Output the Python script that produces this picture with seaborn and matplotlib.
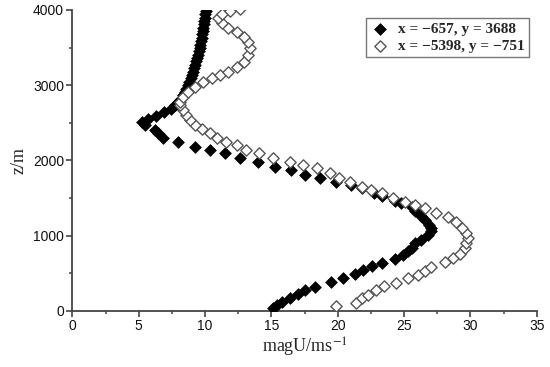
import numpy as np
import pandas as pd
import matplotlib
matplotlib.use("Agg")
import matplotlib.pyplot as plt
import seaborn as sns
from matplotlib.ticker import MultipleLocator

# series 1: x = -657, y = 3688 (filled diamonds)
black_u = [15.1, 15.4, 15.8, 16.4, 17.0, 17.5, 18.3, 19.5, 20.4, 21.3, 21.9, 22.6,
           23.3, 24.3, 24.9, 25.3, 25.6, 25.8, 26.3, 26.8, 27.05, 27.0, 26.9, 26.6,
           26.3, 25.8, 25.6, 24.8, 24.3, 23.3, 22.7, 21.8, 21.0, 19.9, 18.65, 17.5,
           16.5, 15.26, 14.0, 12.6, 11.5, 10.4, 9.24, 7.98, 6.85, 6.48, 6.23, 5.47,
           5.25, 5.7, 6.3, 6.9, 7.4, 7.75, 8.0, 8.2, 8.35, 8.5, 8.6, 8.72, 8.82,
           8.92, 9.0, 9.1, 9.18, 9.26, 9.33, 9.4, 9.47, 9.53, 9.6, 9.65, 9.7, 9.75,
           9.8, 9.84, 9.88, 9.92, 9.95, 9.98, 10.01, 10.04]
black_z = [40, 80, 120, 165, 225, 270, 315, 378, 435, 490, 540, 590,
           640, 690, 745, 790, 835, 895, 945, 1005, 1055, 1100, 1145, 1200,
           1255, 1320, 1385, 1430, 1460, 1520, 1565, 1630, 1675, 1716, 1761, 1805,
           1871, 1915, 1981, 2027, 2093, 2138, 2181, 2247, 2293, 2359, 2403, 2469,
           2505, 2550, 2595, 2640, 2685, 2730, 2775, 2820, 2865, 2910, 2955, 3000, 3045,
           3090, 3135, 3180, 3225, 3270, 3315, 3360, 3405, 3450, 3495, 3540, 3585, 3630,
           3675, 3720, 3765, 3810, 3855, 3900, 3945, 3990]

# series 2: x = -5398, y = -751 (open diamonds)
white_u = [19.9, 21.36, 21.8, 22.3, 22.9, 23.5, 24.4, 25.3, 26.05, 26.6, 27.06, 28.1,
           28.7, 29.2, 29.57, 29.7, 29.8, 29.7, 29.4, 28.9, 28.3, 27.4, 26.6, 25.8,
           25.05, 24.2, 23.3, 22.5, 21.8, 20.9, 20.1, 19.4, 18.4, 17.4, 16.4, 15.1,
           14.1, 13.1, 12.4, 11.6, 10.9, 10.4, 9.74, 9.24, 8.86, 8.6, 8.36, 8.15,
           8.1, 8.36, 8.7, 9.24, 9.87, 10.5, 11.1, 11.75, 12.4, 12.9, 13.25, 13.4,
           13.25, 12.9, 12.4, 11.75, 11.25, 11.0, 11.3, 11.9, 12.6]
white_z = [62, 107, 165, 209, 275, 328, 372, 431, 475, 530, 585, 652,
           697, 754, 830, 904, 963, 1029, 1096, 1184, 1250, 1295, 1362, 1406,
           1450, 1495, 1561, 1605, 1649, 1715, 1770, 1827, 1894, 1937, 1981, 2027,
           2093, 2137, 2204, 2247, 2293, 2359, 2412, 2469, 2536, 2602, 2669, 2730,
           2779, 2846, 2912, 2979, 3045, 3090, 3134, 3178, 3245, 3311, 3400, 3489,
           3578, 3644, 3710, 3755, 3822, 3888, 3945, 3980, 4015]

label_black = "x = \u2212657, y = 3688"
label_white = "x = \u22125398, y = \u2212751"

sns.set_style("ticks")
plt.rcParams["font.family"] = ["Liberation Sans", "DejaVu Sans"]
plt.rcParams["mathtext.fontset"] = "stix"

fig = plt.figure(figsize=(5.5, 3.67), dpi=100)
ax = fig.add_axes([0.1315, 0.1534, 0.8445, 0.8194])

sns.scatterplot(x=black_u, y=black_z, ax=ax, marker="D", s=36, color="black",
                edgecolor="black", linewidth=0.5, label=label_black, zorder=3)
sns.scatterplot(x=white_u, y=white_z, ax=ax, marker="D", s=33, color="white",
                edgecolor="#555555", linewidth=1.0, label=label_white, zorder=4)

ax.set_xlim(0, 35)
ax.set_ylim(0, 4000)
ax.xaxis.set_major_locator(MultipleLocator(5))
ax.xaxis.set_minor_locator(MultipleLocator(2.5))
ax.yaxis.set_major_locator(MultipleLocator(1000))
ax.yaxis.set_minor_locator(MultipleLocator(500))

for side in ["top", "right"]:
    ax.spines[side].set_visible(False)
for side in ["left", "bottom"]:
    ax.spines[side].set_color("#444444")
    ax.spines[side].set_linewidth(1.3)

ax.tick_params(which="major", direction="out", length=4, width=1.2,
               color="#444444", labelsize=10, labelcolor="#111111", pad=2)
ax.tick_params(which="minor", direction="out", length=2.5, width=1.1,
               color="#444444")

ax.set_xlabel("magU/ms$^{-1}$", family="Liberation Serif", fontsize=13, labelpad=2)
ax.set_ylabel("z/m", family="Liberation Serif", fontsize=13, labelpad=4)

leg = ax.legend(loc="upper right", bbox_to_anchor=(1.0, 1.0), fancybox=False,
                framealpha=1, edgecolor="#777777", borderpad=0.3, handletextpad=0.5,
                labelspacing=0.2, handlelength=1.3,
                prop={"family": "Liberation Serif", "weight": "bold", "size": 11})
leg.get_frame().set_linewidth(1.0)

fig.savefig("out.png", dpi=100)
